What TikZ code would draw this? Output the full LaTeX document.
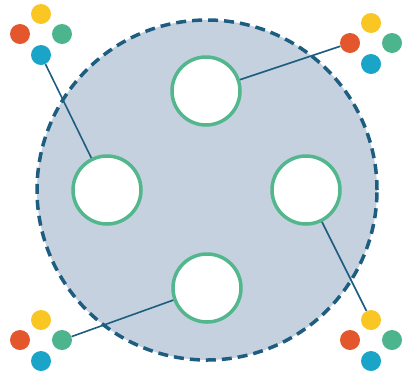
\documentclass[tikz,border=0pt]{standalone}
\usetikzlibrary{positioning}

\definecolor{poolfill}{HTML}{C6D1DF}
\definecolor{pooledge}{HTML}{1D5E80}
\definecolor{slotedge}{HTML}{52B78C}
\definecolor{dotyellow}{HTML}{F9C623}
\definecolor{dotred}{HTML}{E4572C}
\definecolor{dotgreen}{HTML}{4DB58E}
\definecolor{dotblue}{HTML}{1AA4C8}

\begin{document}
\begin{tikzpicture}[
    x=1pt, y=-1pt,
    slot/.style={circle, draw=slotedge, line width=3.5pt, fill=white,
                 minimum size=68pt, inner sep=0pt},
    dot/.style={circle, fill=#1, minimum size=20pt, inner sep=0pt},
    link/.style={draw=pooledge, line width=1.6pt}
  ]
  \useasboundingbox (0,0) rectangle (403,373);

  % Pool
  \node[circle, fill=poolfill, draw=pooledge, line width=3.5pt,
        dash pattern=on 10pt off 6pt, minimum size=340pt, inner sep=0pt]
    (pool) at (207,190) {};

  % Slots
  \node[slot] (top)    at (206,91)  {};
  \node[slot] (left)   at (107,190) {};
  \node[slot] (right)  at (306,190) {};
  \node[slot] (bottom) at (207,288) {};

  % Clusters
  \foreach \n/\cx/\cy in {tl/41/34, tr/371/43, bl/41/340, br/371/340} {
    \node[dot=dotyellow] (\n y) at (\cx,\cy-20) {};
    \node[dot=dotred]    (\n r) at (\cx-21,\cy) {};
    \node[dot=dotgreen]  (\n g) at (\cx+21,\cy) {};
    \node[dot=dotblue]   (\n b) at (\cx,\cy+21) {};
  }

  % Links
  \draw[link] (tlb) -- (left);
  \draw[link] (trr) -- (top);
  \draw[link] (blg) -- (bottom);
  \draw[link] (bry) -- (right);
\end{tikzpicture}
\end{document}
